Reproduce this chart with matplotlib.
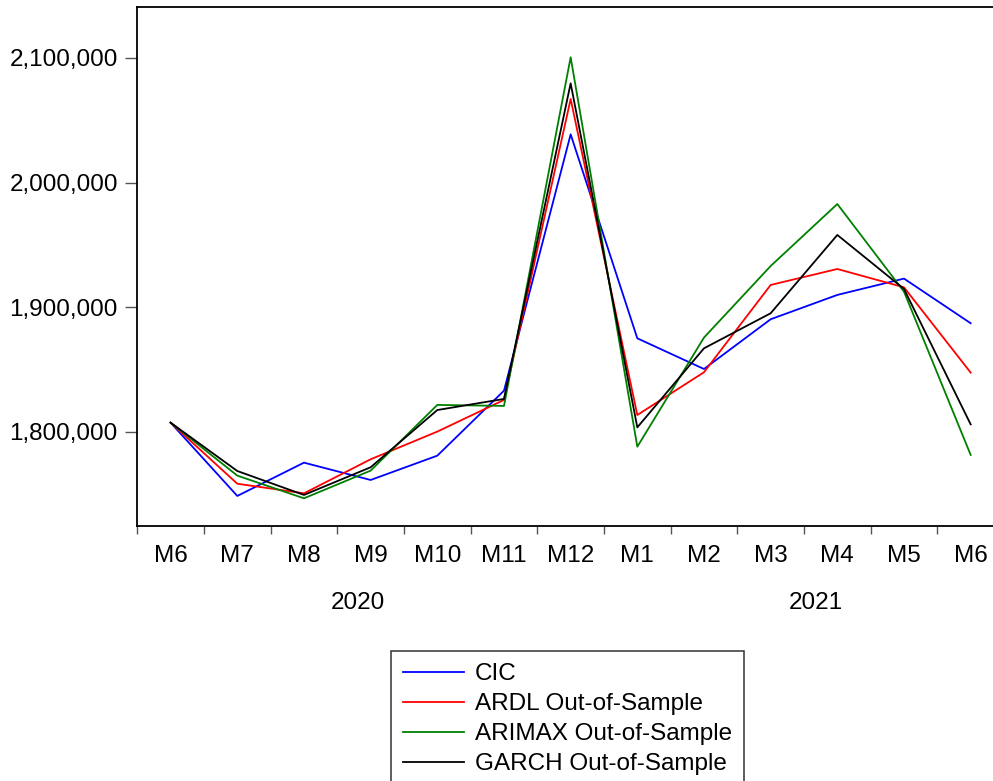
import matplotlib
matplotlib.use('Agg')
import matplotlib.pyplot as plt
from matplotlib.ticker import FuncFormatter, FixedLocator

plt.rcParams['font.family'] = ['Liberation Sans', 'DejaVu Sans']

months = ['M6', 'M7', 'M8', 'M9', 'M10', 'M11', 'M12',
          'M1', 'M2', 'M3', 'M4', 'M5', 'M6']
years = ['2020', '2021']

cic = [1807450, 1748700, 1775400, 1761500, 1781000, 1833100, 2038700,
       1875100, 1850500, 1890400, 1909900, 1923000, 1887200]
ardl = [1807450, 1758500, 1750800, 1778100, 1800300, 1825700, 2067000,
        1813600, 1847900, 1917900, 1930700, 1916000, 1847600]
arimax = [1807450, 1765000, 1746800, 1769000, 1821700, 1820900, 2100500,
          1788200, 1875700, 1933100, 1982800, 1912500, 1781600]
garch = [1807450, 1768700, 1749500, 1771700, 1817600, 1826500, 2079600,
         1803700, 1867100, 1895200, 1958000, 1914700, 1806100]

W, H = 993, 781
fs = 17.5
fig = plt.figure(figsize=(W / 100, H / 100), dpi=100)
left, right, top, bottom = 137.3, 1004, 7, 526
ax = fig.add_axes([left / W, 1 - bottom / H, (right - left) / W, (bottom - top) / H])

x = range(len(months))
ax.plot(x, cic, color='#0000ff', lw=1.3, label='CIC')
ax.plot(x, ardl, color='#ff0000', lw=1.3, label='ARDL Out-of-Sample')
ax.plot(x, arimax, color='#008000', lw=1.3, label='ARIMAX Out-of-Sample')
ax.plot(x, garch, color='#000000', lw=1.3, label='GARCH Out-of-Sample')

ymin, ymax = 1724600, 2140800
ax.set_xlim(-0.5, 12.5)
ax.set_ylim(ymin, ymax)

ax.set_yticks([1800000, 1900000, 2000000, 2100000])
ax.yaxis.set_major_formatter(FuncFormatter(lambda v, p: f'{int(v):,}'))
ax.tick_params(axis='y', length=9, width=1, color='#555555', labelsize=fs, pad=5)

ax.set_xticks(list(x))
ax.set_xticklabels(months)
ax.xaxis.set_minor_locator(FixedLocator([i - 0.5 for i in range(14)]))
ax.tick_params(axis='x', which='major', length=0, labelsize=fs, pad=14)
ax.tick_params(axis='x', which='minor', length=6, width=1, color='#555555')

for s in ax.spines.values():
    s.set_linewidth(1.3)

# year labels below the month labels
year_y = ymin - 66 / 124.7 * 100000
for xpos, yr in zip([2.81, 9.68], years):
    ax.text(xpos, year_y, yr, fontsize=fs, ha='center', va='top', clip_on=False)

leg = fig.legend(loc='upper left', bbox_to_anchor=(391 / W, 1 - 651 / H),
                 fontsize=fs, frameon=True, fancybox=False, edgecolor='black',
                 handlelength=2.5, handletextpad=0.46, labelspacing=0.33,
                 borderpad=0.5, borderaxespad=0)
leg.get_frame().set_linewidth(1.1)

fig.savefig('out.png', dpi=100)
